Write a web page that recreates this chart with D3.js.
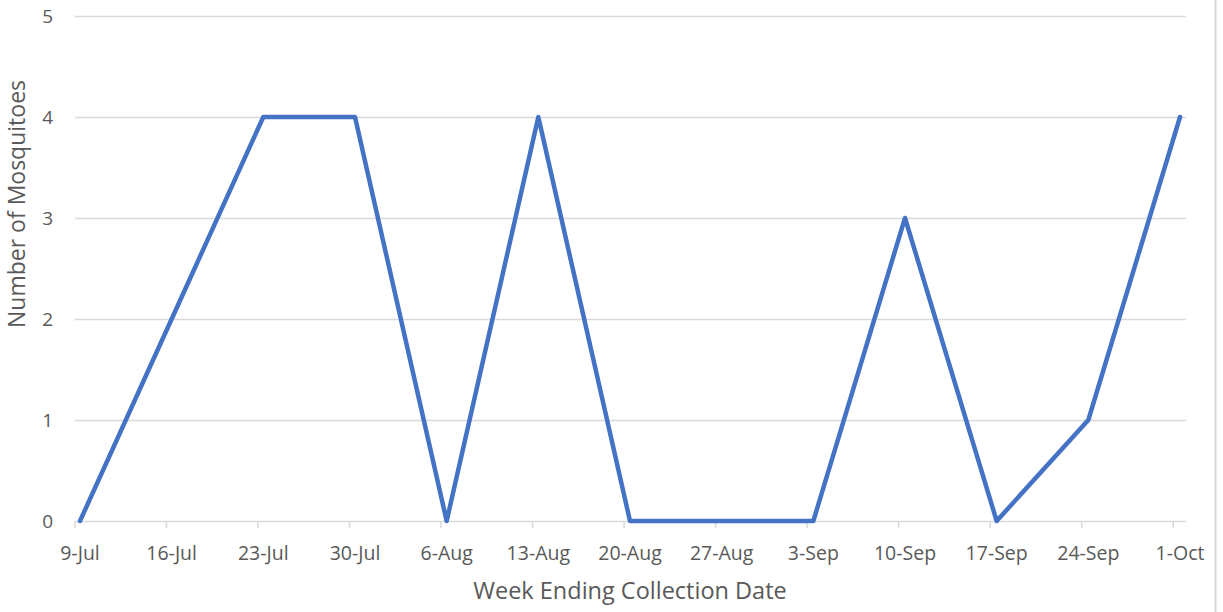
<!DOCTYPE html>
<html><head><meta charset="utf-8">
<script src="https://cdn.jsdelivr.net/npm/d3@7"></script>
<style>body{margin:0;background:#fff}svg{display:block}text{font-family:"Open Sans",sans-serif;fill:#595959}</style>
</head><body><svg id="c" width="1223" height="612"></svg>
<script>
const categories = ["9-Jul","16-Jul","23-Jul","30-Jul","6-Aug","13-Aug","20-Aug","27-Aug","3-Sep","10-Sep","17-Sep","24-Sep","1-Oct"];
const values = [0,2,4,4,0,4,0,0,0,3,0,1,4];
const yTicks = [0,1,2,3,4,5];

const svg = d3.select("#c");
const x = d3.scalePoint().domain(categories).range([80,1180]);
const y = d3.scaleLinear().domain([0,5]).range([521,16]);
const xL = 75, xR = 1186;

// right border
svg.append("line").attr("x1",1215.5).attr("x2",1215.5).attr("y1",0).attr("y2",612).attr("stroke","#d9d9d9").attr("stroke-width",2);

// gridlines
svg.selectAll(".g").data(yTicks.filter(d=>d>0)).enter().append("line")
  .attr("x1",xL).attr("x2",xR).attr("y1",d=>Math.round(y(d))+0.5).attr("y2",d=>Math.round(y(d))+0.5)
  .attr("stroke","#d9d9d9").attr("stroke-width",1.5);
// x axis line
svg.append("line").attr("x1",xL).attr("x2",xR).attr("y1",Math.round(y(0))+0.5).attr("y2",Math.round(y(0))+0.5)
  .attr("stroke","#d9d9d9").attr("stroke-width",1.5);
// ticks
svg.selectAll(".t").data(categories).enter().append("line")
  .attr("x1",d=>x(d)-5-(categories.indexOf(d))*0.15).attr("x2",d=>x(d)-5-(categories.indexOf(d))*0.15)
  .attr("y1",y(0)).attr("y2",y(0)+7).attr("stroke","#d9d9d9").attr("stroke-width",1.5);

// y labels
svg.selectAll(".yl").data(yTicks).enter().append("text")
  .attr("x",53).attr("y",d=>y(d)).attr("dy","0.35em").attr("text-anchor","end")
  .style("font-size","19px").text(d=>d);
// x labels
svg.selectAll(".xl").data(categories).enter().append("text")
  .attr("x",d=>x(d)).attr("y",560).attr("text-anchor","middle")
  .style("font-size","19.5px").text(d=>d);

// titles
svg.append("text").attr("x",630).attr("y",599).attr("text-anchor","middle").style("font-size","23.5px").text("Week Ending Collection Date");
svg.append("text").attr("transform","translate(25,204) rotate(-90)").attr("text-anchor","middle").style("font-size","23px").text("Number of Mosquitoes");

// line
const line = d3.line().x((d,i)=>x(categories[i])).y(d=>y(d));
svg.append("path").datum(values).attr("d",line).attr("fill","none")
  .attr("stroke","#4472c4").attr("stroke-width",4.5).attr("stroke-linejoin","round").attr("stroke-linecap","round");
</script></body></html>
